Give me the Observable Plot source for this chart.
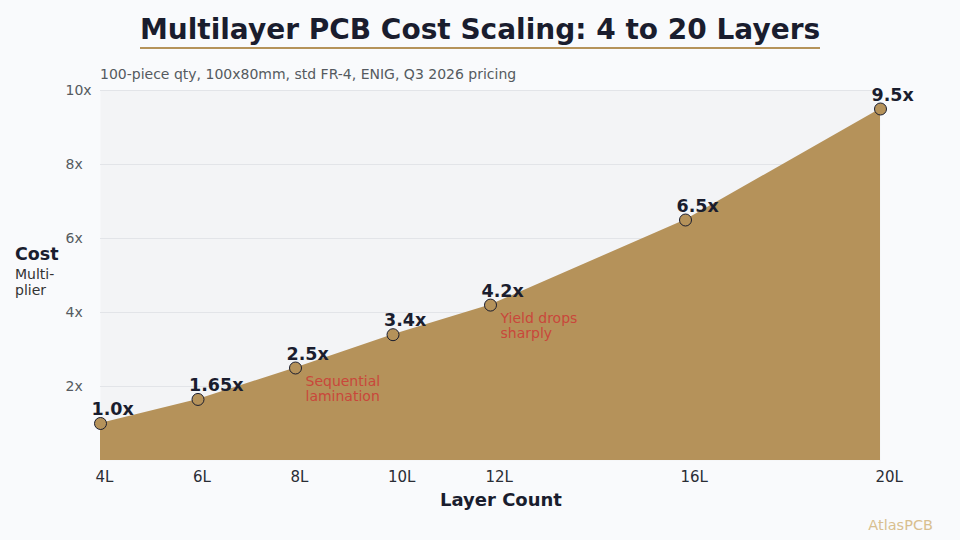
<!DOCTYPE html>
<html>
<head>
<meta charset="utf-8">
<script src="https://cdn.jsdelivr.net/npm/d3@7"></script>
<script src="https://cdn.jsdelivr.net/npm/@observablehq/plot@0.6"></script>
<style>
  html, body { margin: 0; padding: 0; background: #f9fafc; }
  #wrap { position: relative; width: 960px; height: 540px; font-family: "DejaVu Sans", sans-serif; background: #f9fafc; overflow: hidden; }
  #wrap svg { position: absolute; left: 0; top: 0; }
  .abs { position: absolute; white-space: nowrap; }
</style>
</head>
<body>
<div id="wrap">
  <div id="chart"></div>
  <div class="abs" id="title" style="left:0;width:960px;top:14px;text-align:center;font-size:28px;line-height:32px;font-weight:bold;color:#1a1d2e;">
    <span style="display:inline-block;border-bottom:2.5px solid #b5935a;padding-bottom:1px;">Multilayer PCB Cost Scaling: 4 to 20 Layers</span>
  </div>
  <div class="abs" style="left:100px;top:66px;font-size:14px;color:#555a60;">100-piece qty, 100x80mm, std FR-4, ENIG, Q3 2026 pricing</div>
  <div class="abs" style="left:15px;top:244px;font-size:17.5px;font-weight:bold;color:#1a1d2e;">Cost</div>
  <div class="abs" style="left:15px;top:266px;font-size:14px;color:#333;line-height:16px;">Multi-<br>plier</div>
  <div class="abs" style="left:0;width:1002px;top:489px;text-align:center;font-size:18px;font-weight:bold;color:#1a1d2e;">Layer Count</div>
  <div class="abs" style="right:27px;top:517px;font-size:14.5px;color:#d8bf8f;">AtlasPCB</div>
</div>
<script>
const layers = [4, 6, 8, 10, 12, 16, 20];
const costs = [1.0, 1.65, 2.5, 3.4, 4.2, 6.5, 9.5];
const valueLabels = ["1.0x", "1.65x", "2.5x", "3.4x", "4.2x", "6.5x", "9.5x"];
const noteLayers = [8, 12];
const noteCosts = [2.5, 4.2];
const noteTexts = ["Sequential\nlamination", "Yield drops\nsharply"];
const yTicks = [2, 4, 6, 8, 10];
const xTicks = [4, 6, 8, 10, 12, 16, 20];

const data = layers.map((l, i) => ({layers: l, cost: costs[i], label: valueLabels[i]}));
const notes = noteLayers.map((l, i) => ({layers: l, cost: noteCosts[i], text: noteTexts[i]}));

const gold = "#b5925a";
const dark = "#1a1d2e";

const chart = Plot.plot({
  width: 960,
  height: 540,
  marginTop: 90,
  marginBottom: 80,
  marginLeft: 100,
  marginRight: 80,
  style: {background: "transparent", fontFamily: "DejaVu Sans, sans-serif", overflow: "visible"},
  x: {domain: [4, 20]},
  y: {domain: [0, 10]},
  marks: [
    Plot.frame({fill: "#f3f4f6", stroke: null}),
    Plot.gridY(yTicks, {stroke: "#e2e4e8", strokeOpacity: 1}),
    Plot.areaY(data, {x: "layers", y: "cost", fill: gold, fillOpacity: 1}),
    Plot.dot(data, {x: "layers", y: "cost", r: 6, fill: gold, stroke: dark, strokeWidth: 1}),
    Plot.text(data, {x: "layers", y: "cost", text: "label", textAnchor: "start", dx: -9, dy: -14, fontSize: 17.5, fontWeight: "bold", fill: dark}),
    Plot.text(notes, {x: "layers", y: "cost", text: "text", textAnchor: "start", dx: 10, dy: 21, fontSize: 14, fill: "#c9473b", lineHeight: 1.07}),
    Plot.axisY(yTicks, {tickFormat: d => d + "x", tickSize: 0, tickPadding: 0, textAnchor: "start", dx: -35, fontSize: 14, fill: "#555a60", label: null}),
    Plot.axisX(xTicks, {tickFormat: d => d + "L", tickSize: 0, tickPadding: 11, textAnchor: "start", dx: -5, fontSize: 15, fill: "#2a2d35", label: null})
  ]
});
document.getElementById("chart").appendChild(chart);
</script>
</body>
</html>
